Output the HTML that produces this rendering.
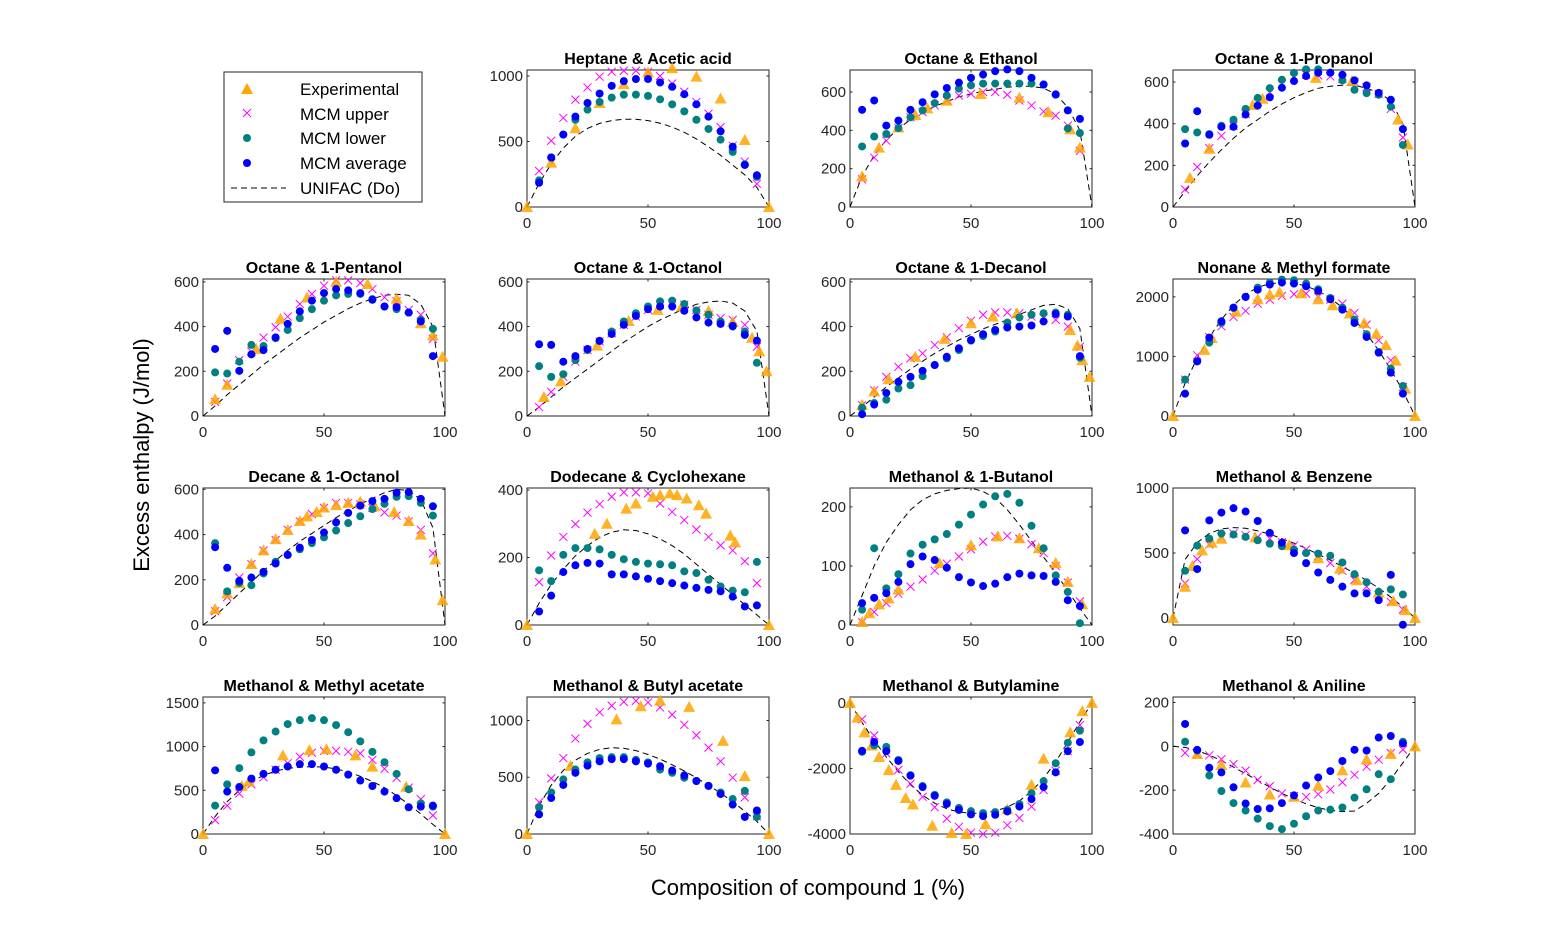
<!DOCTYPE html>
<html><head><meta charset="utf-8"><title>Excess enthalpy</title>
<style>
html,body{margin:0;padding:0;background:#fff;}
svg{display:block;font-family:"Liberation Sans",Arial,sans-serif;}
</style></head>
<body>
<svg id="fig" width="1563" height="938" viewBox="0 0 1563 938" xmlns="http://www.w3.org/2000/svg">
<rect x="0" y="0" width="1563" height="938" fill="#fff"/>
<text x="0" y="0" transform="translate(149,455) rotate(-90)" text-anchor="middle" font-size="22" fill="#000">Excess enthalpy (J/mol)</text>
<text x="808" y="895" text-anchor="middle" font-size="22" fill="#000">Composition of compound 1 (%)</text>
<g>
<rect x="224" y="72" width="198" height="130" fill="#fff" stroke="#262626" stroke-width="1"/>
<polygon points="247,83 253,94 241,94" fill="#FFA500"/>
<text x="300" y="95" font-size="17" fill="#000">Experimental</text>
<path d="M243,109 L251,117 M251,109 L243,117" stroke="#FF00FF" stroke-width="1"/>
<text x="300" y="120" font-size="17" fill="#000">MCM upper</text>
<circle cx="247" cy="138" r="4" fill="#008080"/>
<text x="300" y="144" font-size="17" fill="#000">MCM lower</text>
<circle cx="247" cy="163" r="4" fill="#0000FF"/>
<text x="300" y="169" font-size="17" fill="#000">MCM average</text>
<line x1="231" y1="188" x2="286" y2="188" stroke="#000" stroke-width="1" stroke-dasharray="6,4"/>
<text x="300" y="194" font-size="17" fill="#000">UNIFAC (Do)</text>
</g>
</svg>
<script>
const mcmX=[5,10,15,20,25,30,35,40,45,50,55,60,65,70,75,80,85,90,95];
const uniX=[0,5,10,15,20,25,30,35,40,45,50,55,60,65,70,75,80,85,90,95,100];
const xTicks=[0,50,100];

// 1 Heptane & Acetic acid
const p1Up=[275,506,680,820,913,995,1033,1040,1040,1033,1000,943,880,802,712,610,468,347,177];
const p1Avg=[185,378,553,690,794,866,925,961,977,977,951,918,861,784,690,578,460,321,242];
const p1Low=[203,378,553,666,743,802,835,858,858,848,822,784,730,666,596,514,421,326,230];
const p1ExpX=[0,10,20,30,40,50,60,70,80,90,100];
const p1ExpY=[0,339,601,794,938,1028,1059,995,828,512,0];
const p1Uni=[0,180,330,450,540,600,638,660,670,670,660,640,610,570,520,460,395,320,245,150,0];
// 2 Octane & Ethanol
const p2Up=[144,258,346,412,468,495,530,556,582,591,600,600,586,556,530,498,477,425,293];
const p2Avg=[507,556,425,451,507,547,588,621,649,674,691,709,718,709,674,639,588,504,460];
const p2Low=[316,368,381,412,468,504,542,582,618,635,644,644,644,644,644,639,586,410,386];
const p2ExpX=[5,12,20,27,32,40,54,70,82,91,95];
const p2ExpY=[160,310,415,480,515,555,590,570,495,405,310];
const p2Uni=[0,160,270,350,410,455,495,525,550,575,590,605,615,625,630,630,620,590,520,400,0];
// 3 Octane & 1-Propanol
const p3Up=[84,192,282,342,390,447,503,552,592,621,635,632,627,616,600,576,544,471,334];
const p3Avg=[305,460,347,385,385,444,487,527,573,605,629,645,645,635,608,584,548,515,374];
const p3Low=[374,358,350,390,419,471,524,571,611,644,661,661,645,608,563,547,539,482,298];
const p3ExpX=[7,15,33,37,59,74,93,97];
const p3ExpY=[140,280,490,520,620,605,420,300];
const p3Uni=[0,75,150,215,275,330,380,420,460,495,525,550,570,580,585,585,570,550,510,400,0];
// 4 Octane & 1-Pentanol
const p4Up=[63,145,250,288,351,397,445,501,546,583,607,607,595,568,531,513,475,453,345];
const p4Avg=[300,381,202,276,295,352,412,468,516,550,568,562,550,520,490,487,463,423,268];
const p4Low=[195,190,243,318,313,348,385,438,478,516,540,546,546,523,490,478,463,430,390];
const p4ExpX=[5,10,22,32,43,55,68,80,90,95,99];
const p4ExpY=[75,140,300,435,530,600,590,525,415,360,265];
const p4Uni=[0,45,95,140,185,230,270,310,350,385,420,450,480,505,525,540,545,540,500,400,0];
// 5 Octane & 1-Octanol
const p5Up=[40,108,175,243,295,333,370,408,445,475,498,505,498,475,453,438,430,408,310];
const p5Avg=[321,318,243,268,300,336,367,408,448,478,490,490,471,441,418,412,403,363,337];
const p5Low=[223,175,187,250,295,336,378,423,460,490,513,516,501,472,453,423,400,378,238];
const p5ExpX=[7,14,29,42,54,64,75,85,93,96,99];
const p5ExpY=[85,155,315,425,475,490,470,420,350,290,200];
const p5Uni=[0,40,85,130,170,210,250,290,330,365,400,430,455,480,500,510,515,505,470,380,0];
// 6 Octane & 1-Decanol
const p6Up=[48,115,175,220,258,280,318,352,393,426,453,463,463,460,445,438,430,400,310];
const p6Avg=[8,51,103,153,175,202,228,265,303,340,366,385,396,400,405,423,456,445,268];
const p6Low=[37,58,73,123,138,178,228,258,295,337,358,378,418,441,453,460,463,453,261];
const p6ExpX=[5,10,16,27,39,50,59,69,91,94,96,99];
const p6ExpY=[50,110,165,265,345,415,445,460,385,315,250,175];
const p6Uni=[0,40,85,130,170,210,245,280,310,340,365,390,410,430,455,475,495,500,480,390,0];
// 7 Nonane & Methyl formate
const p7Up=[610,1019,1327,1506,1663,1764,1887,1954,2016,2044,2055,2000,1954,1887,1730,1534,1271,935,487];
const p7Avg=[375,918,1316,1590,1820,2000,2120,2206,2240,2223,2178,2100,1960,1786,1562,1327,1064,728,375];
const p7Low=[610,918,1232,1562,1814,2000,2156,2240,2290,2279,2223,2128,1982,1820,1618,1372,1075,795,504];
const p7ExpX=[0,13,16,26,35,40,44,53,60,66,73,79,84,88,92,96,100];
const p7ExpY=[0,1110,1310,1750,1960,2040,2080,2060,1960,1860,1720,1560,1380,1190,930,460,0];
const p7Uni=[0,550,970,1320,1620,1860,2040,2160,2220,2240,2230,2180,2100,1980,1820,1620,1380,1100,780,420,0];
// 8 Decane & 1-Octanol
const p8Up=[61,124,210,269,329,376,421,458,491,518,540,540,533,518,498,484,458,421,317];
const p8Avg=[344,253,195,210,235,272,310,342,376,409,454,496,528,548,558,585,588,558,525];
const p8Low=[362,149,186,176,228,280,310,335,362,388,418,451,481,513,536,567,570,540,484];
const p8ExpX=[5,10,15,20,25,30,35,40,43,47,50,55,60,65,71,79,85,90,96,99];
const p8ExpY=[70,140,185,270,330,380,420,460,480,500,520,530,540,545,525,500,460,400,290,110];
const p8Uni=[0,40,90,140,190,240,285,330,370,405,440,475,505,535,560,585,600,595,555,430,0];
// 9 Dodecane & Cyclohexane
const p9Up=[127,206,261,299,333,358,380,393,393,390,360,335,311,283,261,236,221,189,124];
const p9Avg=[40,87,157,177,184,182,150,150,144,137,130,124,117,110,104,100,84,55,58];
const p9Low=[162,130,208,228,228,224,208,195,187,182,180,177,159,154,134,114,102,97,187];
const p9ExpX=[0,28,33,41,45,52,55,59,62,66,71,74,84,86,100];
const p9ExpY=[0,270,300,345,360,380,385,390,385,375,355,330,265,245,0];
const p9Uni=[0,65,120,165,205,235,260,275,282,280,270,255,235,210,180,150,120,90,60,30,0];
// 10 Methanol & 1-Butanol
const p10Up=[5,22,37,53,65,77,92,104,116,128,141,150,151,146,137,122,100,72,40];
const p10Avg=[37,46,54,73,103,116,110,97,81,72,66,70,81,87,84,83,73,42,32];
const p10Low=[26,130,62,86,121,136,145,154,170,187,204,218,222,207,168,130,84,56,3];
const p10ExpX=[5,8,12,16,20,37,50,61,70,78,85,90,96];
const p10ExpY=[5,20,35,45,60,105,135,150,147,130,105,73,35];
const p10Uni=[0,50,100,140,170,195,212,222,228,231,232,226,215,195,170,142,115,88,58,28,0];
// 11 Methanol & Benzene
const p11Up=[267,453,565,624,650,637,624,611,583,557,526,479,422,363,293,241,176,124,65];
const p11Avg=[674,376,751,811,845,819,746,655,578,500,422,350,293,241,189,189,137,332,-52];
const p11Low=[363,557,611,650,642,624,598,572,552,526,500,495,479,427,337,275,202,220,181];
const p11ExpX=[0,5,8,12,16,20,34,48,60,69,76,85,91,96,100];
const p11ExpY=[0,240,400,520,580,610,620,560,460,380,290,195,130,60,0];
const p11Uni=[0,450,580,650,685,695,690,670,645,610,575,535,490,445,395,345,290,230,160,85,0];
// 12 Methanol & Methyl acetate
const p12Up=[157,325,463,567,649,735,810,884,929,951,951,940,922,847,746,642,530,399,213];
const p12Avg=[728,485,537,634,687,735,772,799,799,772,735,679,612,549,485,410,306,313,325];
const p12Low=[325,567,754,933,1071,1172,1257,1302,1325,1302,1246,1164,1060,940,821,687,511,351,313];
const p12ExpX=[0,16,19,33,44,51,63,70,84,100];
const p12ExpY=[0,550,600,900,960,970,900,770,540,0];
const p12Uni=[0,200,370,500,600,670,720,750,765,770,765,745,710,660,600,530,440,340,230,110,0];
// 13 Methanol & Butyl acetate
const p13Up=[280,490,669,841,971,1072,1130,1164,1173,1159,1115,1052,962,870,761,640,496,323,156];
const p13Avg=[173,317,432,539,602,640,660,660,640,620,597,559,516,467,424,352,259,150,207];
const p13Low=[236,366,481,568,631,669,677,677,654,631,568,539,496,467,424,366,308,380,150];
const p13ExpX=[0,18,37,47,55,67,81,90,100];
const p13ExpY=[0,600,1010,1125,1175,1120,820,510,0];
const p13Uni=[0,250,430,560,650,710,745,760,755,735,700,660,610,555,495,430,360,285,200,110,0];
// 14 Methanol & Butylamine
const p14Up=[-498,-995,-1542,-2040,-2468,-2866,-3184,-3532,-3781,-3960,-4000,-3960,-3731,-3512,-3164,-2657,-2070,-1473,-677];
const p14Avg=[-1463,-1194,-1473,-1771,-2219,-2567,-2836,-3084,-3264,-3403,-3453,-3413,-3313,-3164,-2935,-2567,-2119,-1473,-1194];
const p14Low=[-1493,-1294,-1343,-1741,-2209,-2537,-2806,-3035,-3204,-3303,-3363,-3333,-3264,-3084,-2756,-2388,-1841,-1214,-846];
const p14ExpX=[0,3,6,9,12,16,19,23,26,34,42,48,56,65,75,80,91,96,100];
const p14ExpY=[0,-450,-900,-1300,-1650,-2050,-2500,-2900,-3100,-3750,-3970,-4000,-3700,-3250,-2500,-1700,-900,-250,0];
const p14Uni=[0,-600,-1150,-1650,-2100,-2500,-2820,-3060,-3230,-3330,-3370,-3360,-3300,-3180,-2990,-2700,-2300,-1800,-1200,-580,0];
// 15 Methanol & Aniline
const p15Up=[-30,-37,-41,-59,-81,-111,-153,-182,-215,-227,-231,-219,-197,-164,-130,-93,-61,-31,-15];
const p15Avg=[102,-16,-98,-119,-187,-261,-286,-283,-259,-224,-179,-142,-113,-67,-16,-19,40,47,13];
const p15Low=[21,-19,-133,-204,-259,-293,-330,-364,-378,-353,-319,-293,-289,-279,-234,-196,-127,-150,21];
const p15ExpX=[10,20,30,40,50,60,70,80,90,100];
const p15ExpY=[-35,-85,-165,-220,-230,-180,-110,-60,-35,0];
const p15Uni=[0,-5,-20,-40,-65,-95,-125,-155,-185,-215,-240,-262,-280,-292,-298,-295,-260,-215,-150,-75,0];

const titles=["Heptane & Acetic acid","Octane & Ethanol","Octane & 1-Propanol","Octane & 1-Pentanol","Octane & 1-Octanol","Octane & 1-Decanol","Nonane & Methyl formate","Decane & 1-Octanol","Dodecane & Cyclohexane","Methanol & 1-Butanol","Methanol & Benzene","Methanol & Methyl acetate","Methanol & Butyl acetate","Methanol & Butylamine","Methanol & Aniline"];
const yMins=[0,0,0,0,0,0,0,0,0,0,-54,0,0,-4000,-400];
const yMaxs=[1046,715,658,613,613,613,2300,606,406,232,1000,1567,1207,180,225];
const yTickSets=[[0,500,1000],[0,200,400,600],[0,200,400,600],[0,200,400,600],[0,200,400,600],[0,200,400,600],[0,1000,2000],[0,200,400,600],[0,200,400],[0,100,200],[0,500,1000],[0,500,1000,1500],[0,500,1000],[-4000,-2000,0],[-400,-200,0,200]];
const ups=[p1Up,p2Up,p3Up,p4Up,p5Up,p6Up,p7Up,p8Up,p9Up,p10Up,p11Up,p12Up,p13Up,p14Up,p15Up];
const avgs=[p1Avg,p2Avg,p3Avg,p4Avg,p5Avg,p6Avg,p7Avg,p8Avg,p9Avg,p10Avg,p11Avg,p12Avg,p13Avg,p14Avg,p15Avg];
const lows=[p1Low,p2Low,p3Low,p4Low,p5Low,p6Low,p7Low,p8Low,p9Low,p10Low,p11Low,p12Low,p13Low,p14Low,p15Low];
const expXs=[p1ExpX,p2ExpX,p3ExpX,p4ExpX,p5ExpX,p6ExpX,p7ExpX,p8ExpX,p9ExpX,p10ExpX,p11ExpX,p12ExpX,p13ExpX,p14ExpX,p15ExpX];
const expYs=[p1ExpY,p2ExpY,p3ExpY,p4ExpY,p5ExpY,p6ExpY,p7ExpY,p8ExpY,p9ExpY,p10ExpY,p11ExpY,p12ExpY,p13ExpY,p14ExpY,p15ExpY];
const unis=[p1Uni,p2Uni,p3Uni,p4Uni,p5Uni,p6Uni,p7Uni,p8Uni,p9Uni,p10Uni,p11Uni,p12Uni,p13Uni,p14Uni,p15Uni];

const NS="http://www.w3.org/2000/svg";
const svg=document.getElementById('fig');
const colL=[203,527,850,1173], rowT=[70,279,488,697], W=242, H=137;
function mk(tag,attrs,parent){const e=document.createElementNS(NS,tag);for(const k in attrs)e.setAttribute(k,attrs[k]);parent.appendChild(e);return e;}
function slug(s){return s.toLowerCase().replace(/&/g,'and').replace(/[^a-z0-9]+/g,'-').replace(/^-|-$/g,'');}

for(let i=0;i<15;i++){
  const pos=i+1, r=Math.floor(pos/4), c=pos%4;
  const L=colL[c], T=rowT[r], B=T+H, R=L+W;
  const y0=yMins[i], y1=yMaxs[i];
  const sx=v=>L+v/100*W;
  const sy=v=>B-(v-y0)/(y1-y0)*H;
  const g=mk('g',{},svg);
  
  
  const box=mk('rect',{x:L,y:T,width:W,height:H,fill:'#fff',stroke:'#262626','stroke-width':1},g);
  
  
  const t=mk('text',{x:(L+R)/2,y:T-6,'text-anchor':'middle','font-size':16,'font-weight':'bold',fill:'#000'},g);
  
  
  t.textContent=titles[i];
  xTicks.forEach(v=>{
    const x=sx(v);
    mk('line',{x1:x,y1:B,x2:x,y2:B-2.5,stroke:'#262626'},g);
    mk('line',{x1:x,y1:T,x2:x,y2:T+2.5,stroke:'#262626'},g);
    const tl=mk('text',{x:x,y:B+21,'text-anchor':'middle','font-size':15,fill:'#262626'},g);
    
    
    tl.textContent=v;
  });
  yTickSets[i].forEach(v=>{
    const y=sy(v);
    mk('line',{x1:L,y1:y,x2:L+2.5,y2:y,stroke:'#262626'},g);
    mk('line',{x1:R,y1:y,x2:R-2.5,y2:y,stroke:'#262626'},g);
    const tl=mk('text',{x:L-4,y:y+5,'text-anchor':'end','font-size':15,fill:'#262626'},g);
    
    
    tl.textContent=v;
  });
  // UNIFAC
  const pts=uniX.map((x,k)=>sx(x).toFixed(1)+','+sy(unis[i][k]).toFixed(1)).join(' ');
  const pl=mk('polyline',{points:pts,fill:'none',stroke:'#000','stroke-width':1,'stroke-dasharray':'6,4'},g);
  
  
  // upper
  mcmX.forEach((x,k)=>{
    const cx=sx(x), cy=sy(ups[i][k]);
    const p=mk('path',{d:`M${cx-4},${cy-4} L${cx+4},${cy+4} M${cx+4},${cy-4} L${cx-4},${cy+4}`,stroke:'#FF00FF','stroke-width':1,fill:'none'},g);
    
    
  });
  // experimental
  expXs[i].forEach((x,k)=>{
    const cx=sx(x), cy=sy(expYs[i][k]);
    const p=mk('polygon',{points:`${cx},${cy-6} ${cx+6},${cy+5} ${cx-6},${cy+5}`,fill:'#FFA500','fill-opacity':0.85},g);
    
    
  });
  // lower
  mcmX.forEach((x,k)=>{
    const p=mk('circle',{cx:sx(x),cy:sy(lows[i][k]),r:4,fill:'#008080'},g);
    
    
  });
  // average
  mcmX.forEach((x,k)=>{
    const p=mk('circle',{cx:sx(x),cy:sy(avgs[i][k]),r:4,fill:'#0000FF'},g);
    
    
  });
}
</script>
</body></html>
